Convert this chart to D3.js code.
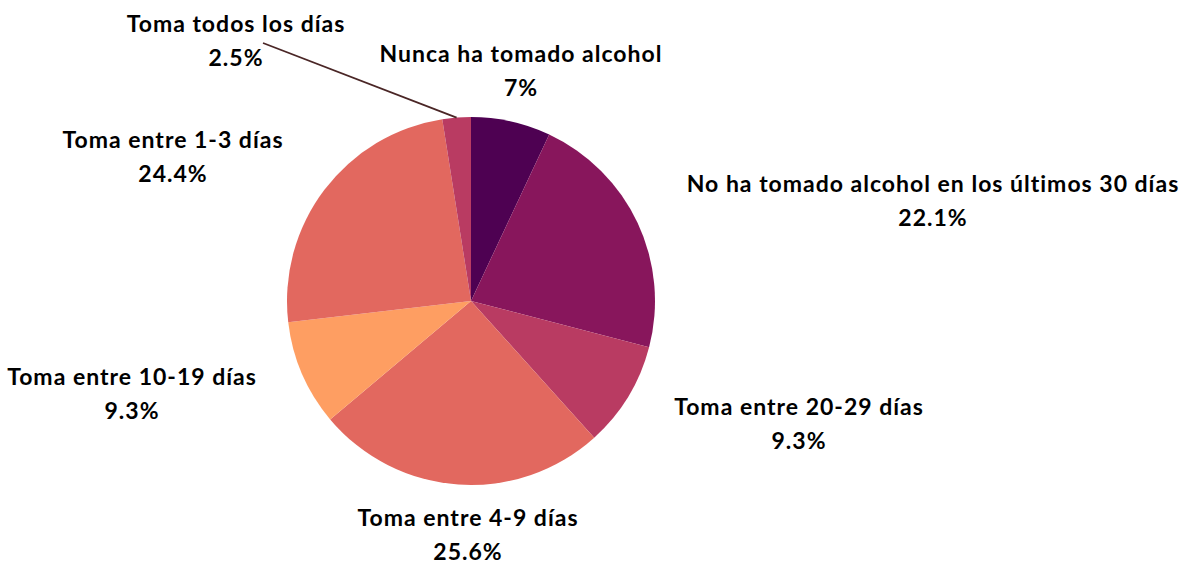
<!DOCTYPE html>
<html lang="es">
<head>
  <meta charset="UTF-8">
  <title>Frecuencia de consumo de alcohol</title>
  <script src="https://d3js.org/d3.v7.min.js"></script>
  <style>
    body { margin: 0; background: #fff; }
    svg { display: block; }
    .lbl { font-family: Lato, "Open Sans", sans-serif; font-weight: 700; font-size: 23px; letter-spacing: 1px; fill: #000; }
  </style>
</head>
<body>
<div id="chart"></div>
<script>
  // data, clockwise from 12 o'clock
  const categories = [
    "Nunca ha tomado alcohol",
    "No ha tomado alcohol en los últimos 30 días",
    "Toma entre 20-29 días",
    "Toma entre 4-9 días",
    "Toma entre 10-19 días",
    "Toma entre 1-3 días",
    "Toma todos los días"
  ];
  const values = [7, 22.1, 9.3, 25.6, 9.3, 24.4, 2.5];
  const valueLabels = ["7%", "22.1%", "9.3%", "25.6%", "9.3%", "24.4%", "2.5%"];

  const colors = ["#4e0152", "#88165c", "#b93b62", "#e2685f", "#fe9e62", "#e2685f", "#b93b62"];

  const width = 1194, height = 565;
  const cx = 471, cy = 301, r = 184;

  // label anchors (first-line baseline), offset from pie center
  const labelOffsets = [
    [50, -239], [462, -109], [328, 114], [-3, 225], [-339, 84], [-298, -153], [-235, -269]
  ];
  const lineGap = 34;

  const svg = d3.select("#chart").append("svg")
    .attr("width", width).attr("height", height);

  const pie = d3.pie().sort(null).value(d => d);
  const arc = d3.arc().innerRadius(0).outerRadius(r);
  const arcs = pie(values);

  const g = svg.append("g").attr("transform", `translate(${cx},${cy})`);

  g.selectAll("path.slice")
    .data(arcs)
    .enter().append("path")
    .attr("class", "slice")
    .attr("d", arc)
    .attr("fill", (d, i) => colors[i]);

  // leader line for the tiny slice
  const last = arcs[arcs.length - 1];
  const mid = (last.startAngle + last.endAngle) / 2;
  const edge = [Math.sin(mid) * r, -Math.cos(mid) * r];
  g.append("line")
    .attr("x1", edge[0]).attr("y1", edge[1])
    .attr("x2", -208).attr("y2", -258)
    .attr("stroke", "#4a2626")
    .attr("stroke-width", 1.8);

  const labels = g.selectAll("text.lbl")
    .data(categories)
    .enter().append("text")
    .attr("class", "lbl")
    .attr("text-anchor", "middle")
    .attr("transform", (d, i) => `translate(${labelOffsets[i][0]},${labelOffsets[i][1]})`);

  labels.append("tspan").attr("x", 0).attr("y", 0).text(d => d);
  labels.append("tspan").attr("x", 0).attr("y", lineGap).text((d, i) => valueLabels[i]);
</script>
</body>
</html>
